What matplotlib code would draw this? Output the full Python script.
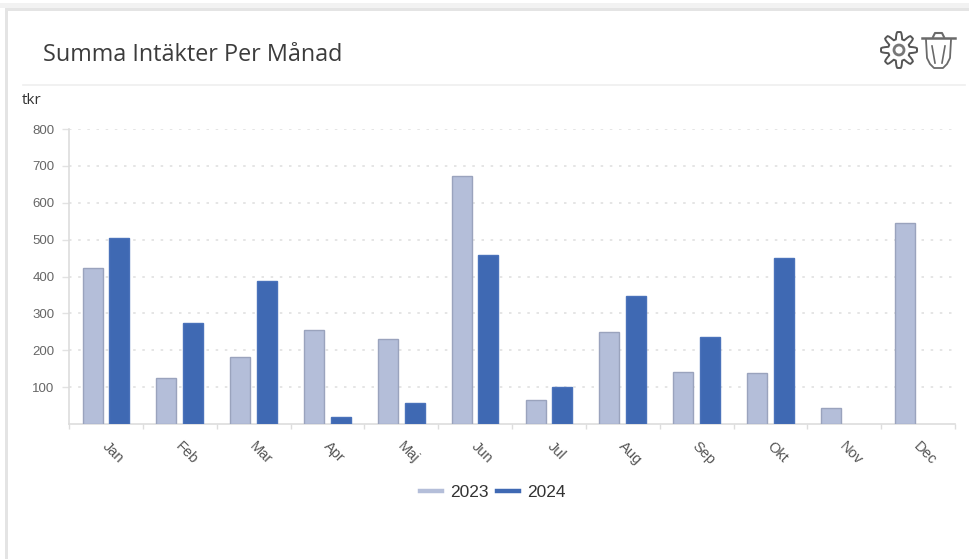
#!/usr/bin/env python3
import numpy as np
import matplotlib
matplotlib.use('Agg')
import matplotlib.pyplot as plt
from matplotlib.lines import Line2D
from matplotlib.patches import Rectangle, Circle
from matplotlib.transforms import ScaledTranslation

W, H = 969, 559

months = ['Jan', 'Feb', 'Mar', 'Apr', 'Maj', 'Jun', 'Jul', 'Aug', 'Sep', 'Okt', 'Nov', 'Dec']
values_2023 = [423, 125, 182, 255, 230, 672, 65, 250, 141, 138, 43, 545]
values_2024 = [505, 275, 387, 18, 58, 458, 100, 347, 236, 450, np.nan, np.nan]
y_ticks = [100, 200, 300, 400, 500, 600, 700, 800]

col_2023 = '#b4bed9'
edge_2023 = '#9aa3bd'
col_2024 = '#3f69b3'
edge_2024 = '#4a72ba'

fig = plt.figure(figsize=(W / 100, H / 100), dpi=100, facecolor='white')

# overlay in pixel coordinates for the panel frame and icons
bg = fig.add_axes([0, 0, 1, 1], zorder=0)
bg.set_xlim(0, W)
bg.set_ylim(H, 0)
bg.axis('off')
bg.add_patch(Rectangle((0, 3), W, 5, color='#f2f2f2', lw=0))
bg.add_patch(Rectangle((5, 8), W, 3, color='#e4e4e4', lw=0))
bg.add_patch(Rectangle((5, 8), 3, H, color='#e4e4e4', lw=0))
bg.plot([23, 965], [85, 85], color='#efefef', lw=1.2)
bg.text(43, 55, 'Summa Intäkter Per Månad', family='Open Sans', fontsize=16.8,
        color='#3c3c3c', va='center', ha='left')
bg.text(22, 100, 'tkr', family='Open Sans', fontsize=11, color='#333333',
        va='center', ha='left')

# gear icon
cx, cy = 899, 50
ang = np.linspace(0, 2 * np.pi, 8 * 16 + 1)
rad = 14.5 + 3.5 * np.clip(1.6 * np.cos(8 * ang), -1, 1)
bg.plot(cx + rad * np.cos(ang), cy + rad * np.sin(ang), color='#555555', lw=1.4)
bg.add_patch(Circle((cx, cy), 5, fill=False, ec='#777777', lw=2))

# trash icon
ic = '#6a6a6a'
bg.plot([922, 955], [38, 38], color=ic, lw=1.8)
bg.plot([933, 935, 942, 944], [37, 33, 33, 37], color=ic, lw=1.5)
bg.plot([926, 927, 930, 934, 943, 947, 950, 951], [40, 58, 64, 68, 68, 64, 58, 40], color=ic, lw=1.3)
bg.plot([932, 935], [46, 63], color=ic, lw=1.2)
bg.plot([945, 942], [46, 63], color=ic, lw=1.2)

# chart area, px 69..955 and 129..424
ax = fig.add_axes([69 / W, 1 - 424 / H, (955 - 69) / W, (424 - 129) / H], zorder=1)
ax.patch.set_alpha(0)
x = np.arange(len(months))
ax.bar(x - 0.18, values_2023, 0.27, color=col_2023, edgecolor=edge_2023, linewidth=1, zorder=3)
ax.bar(x + 0.18, values_2024, 0.27, color=col_2024, edgecolor=edge_2024, linewidth=1, zorder=3)

ax.set_xlim(-0.5, len(months) - 0.5)
ax.set_ylim(0, 800)
ax.set_yticks(y_ticks)
ax.set_yticklabels(y_ticks, family='Liberation Sans', fontsize=9.5, color='#666666')
ax.tick_params(axis='y', length=5, width=1, color='#e2e2e2', pad=5.5)
ax.grid(axis='y', color='#e0e0e0', linestyle=(0, (1.5, 4)), linewidth=1.2, zorder=0)

# ticks sit between the months, labels on the month centres
ax.set_xticks(np.arange(-0.5, len(months)))
ax.set_xticklabels([])
ax.tick_params(axis='x', which='major', length=3.5, width=1, color='#dddddd')
ax.set_xticks(x, minor=True)
ax.set_xticklabels(months, minor=True, rotation=-45, family='Liberation Sans', fontsize=10.5,
                   color='#555555', ha='center', va='top')
ax.tick_params(axis='x', which='minor', length=0, pad=11)
shift = ScaledTranslation(7 / 100, 0, fig.dpi_scale_trans)
for lab in ax.get_xticklabels(minor=True):
    lab.set_transform(lab.get_transform() + shift)

for s in ['top', 'right']:
    ax.spines[s].set_visible(False)
for s in ['left', 'bottom']:
    ax.spines[s].set_color('#dddddd')
    ax.spines[s].set_linewidth(1.2)

handles = [Line2D([], [], color=col_2023, lw=3.2), Line2D([], [], color=col_2024, lw=3.2)]
fig.legend(handles, ['2023', '2024'], ncol=2, frameon=False, loc='center',
           bbox_to_anchor=(493 / W, 1 - 492 / H), handlelength=1.27, handletextpad=0.46,
           columnspacing=0.5, prop={'family': 'Liberation Sans', 'size': 12.5},
           labelcolor='#333333')

fig.savefig('out.png', dpi=100)
